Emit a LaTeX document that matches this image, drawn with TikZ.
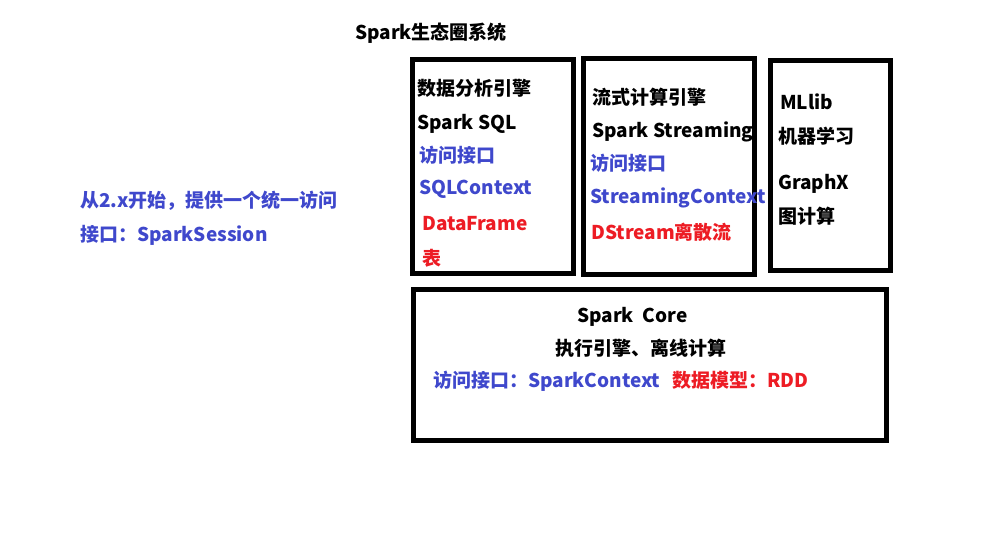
\documentclass[tikz,border=0pt]{standalone}
\usepackage{fontspec}
\setmainfont{Noto Sans CJK SC}
\definecolor{iblue}{HTML}{3F48CC}
\definecolor{ired}{HTML}{ED1C24}
\begin{document}
\begin{tikzpicture}[x=1pt,y=-1pt,
  box/.style={draw=black,line width=5pt,rectangle,inner sep=0pt},
  txt/.style={anchor=west,inner sep=0pt,font=\fontsize{19}{21}\selectfont\bfseries,text height=17pt,text depth=2pt},
  bl/.style={txt,text=iblue},
  rd/.style={txt,text=ired}]
\useasboundingbox[fill=white] (0,0) rectangle (1008,544);
% boxes
\node[box,minimum width=161pt,minimum height=214pt] (bsql) at (493,166.5) {};
\node[box,minimum width=171.5pt,minimum height=216pt] (bstr) at (668.75,166.5) {};
\node[box,minimum width=120.5pt,minimum height=210.5pt] (bml) at (830.25,165.25) {};
\node[box,minimum width=473pt,minimum height=151pt] (bcore) at (650,365) {};
% title
\node[txt] (title) at (355,32) {Spark生态圈系统};
% left note
\node[bl] (note1) at (80,200) {从2.x开始，提供一个统一访问};
\node[bl] (note2) at (80,234) {接口：SparkSession};
% SQL box
\node[txt] (s1) at (417,88) {数据分析引擎};
\node[txt] (s2) at (417,122) {Spark SQL};
\node[bl] (s3) at (419,155) {访问接口};
\node[bl] (s4) at (419,187) {SQLContext};
\node[rd] (s5) at (422,223) {DataFrame};
\node[rd] (s6) at (422,258) {表};
% Streaming box
\node[txt] (t1) at (592,97) {流式计算引擎};
\node[txt] (t2) at (592,130) {Spark Streaming};
\node[bl] (t3) at (590,163) {访问接口};
\node[bl] (t4) at (590,196) {StreamingContext};
\node[rd] (t5) at (591,232) {DStream离散流};
% ML box
\node[txt] (m1) at (780,102) {MLlib};
\node[txt] (m2) at (778,136) {机器学习};
\node[txt] (m3) at (778,182) {GraphX};
\node[txt] (m4) at (778,216) {图计算};
% Core box
\node[txt] (c1) at (577,315) {Spark\ \ Core};
\node[txt] (c2) at (555,348) {执行引擎、离线计算};
\node[bl] (c3) at (433,380) {访问接口：SparkContext};
\node[rd] (c4) at (672,380) {数据模型：RDD};
\end{tikzpicture}
\end{document}
